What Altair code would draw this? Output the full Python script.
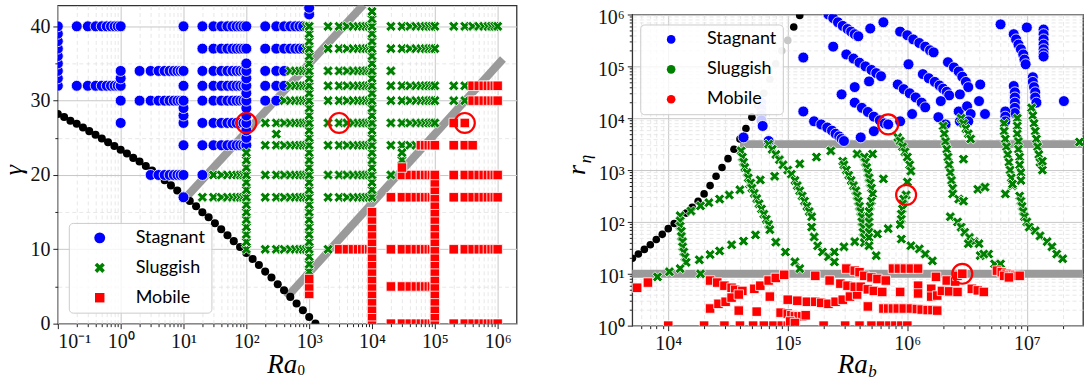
import altair as alt
import pandas as pd

REGIMES = ["Stagnant", "Sluggish", "Mobile"]
COLORS = ["#0000ff", "#008000", "#ff0000"]
X_PATH = "M-1,-0.5L-0.5,-1L0,-0.5L0.5,-1L1,-0.5L0.5,0L1,0.5L0.5,1L0,0.5L-0.5,1L-1,0.5L-0.5,0Z"
SHAPES = ["circle", X_PATH, "square"]
SIZES = [120, 90, 72]

# ---------------- Left panel: runs in the (Ra0, gamma) plane ----------------
MANTISSAS = [2, 3, 4, 5, 6, 7, 8, 9, 10]
# (gamma, decade exponent, regime, first mantissa, last mantissa)
LEFT_ROWS = [
    (40, -1, "Stagnant", 2, 10), (32, -1, "Stagnant", 2, 10),
    (34, 0, "Stagnant", 2, 10), (30, 0, "Stagnant", 2, 10), (20, 0, "Stagnant", 3, 10),
    (40, 1, "Stagnant", 2, 10), (37, 1, "Stagnant", 2, 10), (34, 1, "Stagnant", 2, 10),
    (32, 1, "Stagnant", 2, 10), (30, 1, "Stagnant", 2, 10), (27, 1, "Stagnant", 2, 10),
    (24, 1, "Stagnant", 2, 10), (20, 1, "Stagnant", 2, 2), (20, 1, "Sluggish", 3, 10),
    (17, 1, "Sluggish", 2, 10),
    (40, 2, "Stagnant", 2, 8), (40, 2, "Sluggish", 9, 10),
    (37, 2, "Stagnant", 2, 8), (37, 2, "Sluggish", 9, 10),
    (34, 2, "Stagnant", 2, 4), (34, 2, "Sluggish", 5, 10),
    (32, 2, "Stagnant", 2, 4), (32, 2, "Sluggish", 5, 10),
    (30, 2, "Stagnant", 2, 3), (30, 2, "Sluggish", 4, 10),
    (27, 2, "Sluggish", 2, 10), (24, 2, "Sluggish", 2, 10), (20, 2, "Sluggish", 2, 10),
    (17, 2, "Sluggish", 2, 10), (10, 2, "Sluggish", 2, 10),
    (40, 3, "Sluggish", 2, 10), (37, 3, "Sluggish", 2, 10), (34, 3, "Sluggish", 2, 10),
    (32, 3, "Sluggish", 2, 10), (30, 3, "Sluggish", 2, 10), (27, 3, "Sluggish", 2, 10),
    (24, 3, "Sluggish", 2, 10), (20, 3, "Sluggish", 2, 10), (17, 3, "Sluggish", 2, 10),
    (10, 3, "Sluggish", 2, 2), (10, 3, "Mobile", 3, 10),
    (40, 4, "Sluggish", 2, 10), (37, 4, "Sluggish", 2, 10), (34, 4, "Sluggish", 2, 2),
    (32, 4, "Sluggish", 2, 10), (30, 4, "Sluggish", 2, 10), (27, 4, "Sluggish", 2, 10),
    (24, 4, "Sluggish", 2, 5), (24, 4, "Mobile", 6, 10),
    (20, 4, "Sluggish", 2, 2), (20, 4, "Mobile", 3, 10),
    (17, 4, "Mobile", 2, 10), (10, 4, "Mobile", 2, 10), (5, 4, "Mobile", 2, 10),
    (0, 4, "Mobile", 2, 10),
    (40, 5, "Sluggish", 2, 10),
    (32, 5, "Sluggish", 2, 3), (32, 5, "Mobile", 4, 10),
    (30, 5, "Sluggish", 2, 3), (30, 5, "Mobile", 4, 10),
    (27, 5, "Mobile", 2, 3), (24, 5, "Mobile", 2, 4),
    (20, 5, "Mobile", 2, 10), (17, 5, "Mobile", 2, 10), (10, 5, "Mobile", 2, 10),
    (0, 5, "Mobile", 2, 10),
]
# columns of runs at one Ra0: (Ra0, regime, gammas)
LEFT_COLS = [
    (0.1, "Stagnant", [32, 33, 34, 35, 36, 37, 38, 39, 40]),
    (1.0, "Stagnant", [27, 30, 32, 33, 34]),
    (10.0, "Stagnant", [17, 24, 27, 28, 29, 30, 32, 34, 40]),
    (100.0, "Stagnant", [24, 25, 26, 27, 28, 29, 30, 31, 32, 33, 34, 35]),
    (100.0, "Sluggish", [10, 11, 12, 13, 14, 15, 16, 17, 18, 19, 20, 21, 22, 23]),
    (300.0, "Sluggish", [25.5]),
    (1e3, "Stagnant", [41.6, 42.5]),
    (1e3, "Sluggish", [7, 8, 9, 10, 11, 12, 13, 14, 15, 16, 17, 18, 19, 20, 21, 22, 23,
                       24, 25, 26, 27, 28, 29, 30, 31, 32, 33, 34, 35, 36, 37, 38, 39, 40]),
    (1e3, "Mobile", [4, 5, 6]),
    (1e4, "Sluggish", [18, 19, 20, 21, 22, 23, 24, 25, 26, 27, 28, 29, 30, 31, 32, 33, 34,
                       35, 36, 37, 38, 39, 40, 41, 42]),
    (1e4, "Mobile", [0, 1, 2, 3, 4, 5, 6, 7, 8, 9, 10, 11, 12, 13, 14, 15]),
    (3e4, "Sluggish", [22, 23]),
    (3e4, "Mobile", [21]),
    (1e5, "Mobile", [0, 1, 2, 3, 4, 5, 6, 7, 8, 9, 10, 11, 12, 13, 14, 15, 16, 17, 18, 19, 20]),
]
# critical curve (black dots)
CRIT_LOG_RA0 = [-1.0, -0.9, -0.8, -0.7, -0.6, -0.5, -0.4, -0.3, -0.2, -0.1, 0.0, 0.1, 0.2,
                0.3, 0.4, 0.5, 0.6, 0.7, 0.8, 0.9, 1.0, 1.1, 1.2, 1.3, 1.4, 1.5, 1.6, 1.7,
                1.8, 1.9, 2.0, 2.1, 2.2, 2.3, 2.4, 2.5, 2.6, 2.7, 2.8, 2.9, 3.0, 3.1]
CRIT_GAMMA = [28.2, 27.8, 27.3, 26.9, 26.4, 25.9, 25.4, 24.9, 24.4, 23.9, 23.4, 22.9, 22.3,
              21.8, 21.2, 20.6, 20.0, 19.3, 18.6, 17.9, 17.2, 16.5, 15.8, 15.0, 14.3, 13.5,
              12.7, 11.9, 11.1, 10.3, 9.5, 8.7, 7.9, 7.0, 6.2, 5.3, 4.5, 3.6, 2.7, 1.8, 0.9, 0.0]
# regime boundaries (thick grey lines)
LEFT_LINE_ID = [1, 1, 2, 2]
LEFT_LINE_RA0 = [11.0, 6600.0, 480.0, 1.1e6]
LEFT_LINE_GAMMA = [17.0, 42.5, 3.9, 35.2]
# highlighted runs
LEFT_MARK_RA0 = [100.0, 3000.0, 3e5]
LEFT_MARK_GAMMA = [27, 27, 27]

# ---------------- Right panel: (log10 Ra_b, log10 r_eta) ----------------
RIGHT_STAGNANT = [
    (4.63, 3.63), (4.79, 3.85), (4.84, 3.56),
    (5.13, 4.13), (5.22, 3.94), (5.28, 3.88), (5.33, 3.82), (5.37, 3.76), (5.40, 3.70),
    (5.43, 3.65), (5.45, 3.60), (5.47, 3.56),
    (5.61, 3.63), (5.72, 3.75),
    (5.56, 4.30), (5.62, 4.20), (5.67, 4.12), (5.72, 4.03), (5.77, 3.96), (5.81, 3.90), (5.84, 3.88),
    (5.94, 3.94), (6.04, 4.08),
    (5.13, 5.17),
    (5.38, 5.38), (5.49, 5.23), (5.55, 5.15), (5.60, 5.07), (5.65, 5.00), (5.70, 4.93),
    (5.74, 4.87), (5.78, 4.81),
    (5.34, 6.00), (5.38, 5.93), (5.42, 5.85), (5.46, 5.78), (5.50, 5.72), (5.53, 5.67),
    (5.56, 5.62), (5.59, 5.58),
    (5.69, 5.73), (5.80, 5.85),
    (5.45, 4.46), (5.56, 4.60), (5.68, 4.71),
    (5.94, 5.67), (6.00, 5.60), (6.05, 5.52), (6.10, 5.45), (6.15, 5.38), (6.19, 5.31), (6.22, 5.27),
    (5.92, 4.65), (5.97, 4.56), (6.02, 4.48), (6.07, 4.40), (6.12, 4.30), (6.15, 4.21),
    (6.01, 5.04),
    (6.13, 4.85), (6.18, 4.77), (6.23, 4.70), (6.27, 4.63), (6.30, 4.57), (6.33, 4.51), (6.35, 4.44),
    (6.34, 5.08), (6.39, 4.98), (6.43, 4.90), (6.46, 4.80), (6.49, 4.70), (6.51, 4.60),
    (6.28, 4.33), (6.44, 4.46), (6.61, 4.65),
    (6.26, 4.02), (6.32, 3.88), (6.43, 4.13), (6.44, 3.94), (6.50, 4.23), (6.53, 4.08),
    (6.51, 3.94), (6.60, 4.33), (6.65, 4.08),
    (6.78, 5.81), (6.89, 5.62), (6.91, 5.52), (6.93, 5.42), (6.95, 5.33), (6.97, 5.23),
    (6.98, 5.13), (6.99, 5.04),
    (7.00, 5.75), (7.14, 5.71), (7.14, 5.62), (7.14, 5.52), (7.14, 5.42), (7.14, 5.33),
    (7.14, 5.25), (7.14, 5.19),
    (7.05, 4.79), (7.05, 4.70), (7.06, 4.60), (7.07, 4.50), (7.07, 4.40), (7.08, 4.30),
    (6.89, 4.62), (6.90, 4.50), (6.90, 4.40), (6.90, 4.30), (6.90, 4.20), (6.90, 4.10),
    (6.82, 4.13), (6.82, 4.03), (6.82, 3.94),
    (7.31, 4.33),
]
RIGHT_STAGNANT_FADED = [(4.78, 4.30), (4.78, 4.18), (4.78, 4.06), (4.78, 3.96)]
RIGHT_SLUGGISH = [
    (4.10, 2.12), (4.19, 2.21), (4.27, 2.31), (4.34, 2.37), (4.43, 2.44), (4.51, 2.52),
    (4.60, 2.62), (4.68, 2.73), (4.77, 2.81), (4.89, 2.88), (5.10, 3.12), (5.24, 3.25), (5.36, 3.37),
    (4.10, 2.02), (4.10, 1.92), (4.11, 1.82), (4.11, 1.72), (4.12, 1.62), (4.12, 1.52),
    (4.13, 1.42), (4.14, 1.32), (4.15, 1.22),
    (3.91, 0.94), (4.01, 1.04), (4.10, 1.10), (4.26, 1.27), (4.35, 1.37), (4.43, 1.44),
    (4.53, 1.56), (4.63, 1.63), (4.73, 1.75), (4.27, 1.00),
    (4.61, 3.37), (4.62, 3.25), (4.63, 3.15), (4.64, 3.05), (4.66, 2.95), (4.67, 2.85),
    (4.69, 2.75), (4.70, 2.65), (4.72, 2.55), (4.74, 2.45), (4.76, 2.35), (4.78, 2.25),
    (4.80, 2.15), (4.82, 2.05), (4.84, 1.95), (4.85, 1.85), (4.90, 1.61), (4.98, 1.42),
    (5.06, 1.23), (5.10, 1.10),
    (4.84, 3.50), (4.87, 3.40), (4.90, 3.30), (4.93, 3.20), (4.96, 3.10), (5.00, 3.00),
    (5.03, 2.92), (5.06, 2.80), (5.08, 2.70), (5.10, 2.60), (5.12, 2.50), (5.14, 2.40),
    (5.16, 2.30), (5.18, 2.20), (5.20, 2.10), (5.20, 1.90), (5.22, 1.71), (5.25, 1.54),
    (5.29, 1.42), (5.34, 1.33), (5.39, 1.23),
    (5.46, 3.17), (5.47, 3.10), (5.49, 3.00), (5.51, 2.90), (5.53, 2.80), (5.55, 2.70),
    (5.57, 2.60), (5.58, 2.50), (5.59, 2.40), (5.60, 2.30), (5.61, 2.20), (5.62, 2.10),
    (5.62, 2.00), (5.63, 1.90), (5.63, 1.80), (5.64, 1.70), (5.64, 1.60),
    (5.58, 3.31), (5.71, 3.31), (5.64, 3.25), (5.65, 3.15), (5.66, 3.05), (5.67, 2.95),
    (5.68, 2.85), (5.69, 2.75), (5.70, 2.65), (5.71, 2.54), (5.70, 2.40), (5.69, 2.30),
    (5.68, 2.20), (5.68, 2.10), (5.68, 2.00), (5.68, 1.90), (5.68, 1.80), (5.68, 1.70),
    (5.68, 1.54), (5.74, 1.35),
    (5.80, 2.83), (5.39, 1.42), (5.47, 1.52), (5.56, 1.62), (5.75, 1.77), (5.84, 1.87),
    (5.92, 3.63), (5.94, 3.56), (5.96, 3.45), (5.98, 3.35), (6.00, 3.25), (6.02, 3.10),
    (6.03, 2.98), (6.00, 2.77), (5.99, 2.52), (5.97, 2.44), (5.96, 2.35), (5.96, 2.25),
    (5.95, 2.15), (5.95, 2.05), (5.94, 1.95),
    (5.95, 1.67), (6.03, 1.54), (6.10, 1.48), (6.15, 1.38), (6.21, 1.25),
    (6.30, 3.85), (6.31, 3.70), (6.32, 3.55), (6.33, 3.40), (6.34, 3.25), (6.35, 3.10),
    (6.36, 2.95), (6.37, 2.80), (6.38, 2.65), (6.38, 2.54), (6.43, 2.44), (6.36, 2.10),
    (6.42, 2.00), (6.45, 1.90), (6.48, 1.80), (6.52, 1.70), (6.56, 1.62), (6.60, 1.58),
    (6.51, 1.58), (6.61, 1.35), (6.68, 1.38), (6.73, 1.19), (6.64, 1.38), (6.78, 1.19),
    (6.47, 3.21), (6.45, 4.00), (6.47, 3.90), (6.49, 3.80), (6.51, 3.70), (6.53, 3.60),
    (6.59, 2.63), (6.65, 2.67), (6.47, 2.40),
    (6.81, 3.90), (6.81, 3.75), (6.82, 3.60), (6.83, 3.45), (6.84, 3.30), (6.85, 3.15),
    (6.86, 3.00), (6.87, 2.85), (6.88, 2.70),
    (6.92, 4.00), (6.92, 3.85), (6.92, 3.70), (6.93, 3.55), (6.93, 3.40), (6.94, 3.25),
    (6.94, 3.10), (6.95, 2.95), (6.95, 2.80),
    (6.82, 2.54), (6.88, 2.73), (6.94, 2.50), (6.95, 2.40), (6.96, 2.30), (6.97, 2.20),
    (6.98, 2.10), (7.00, 2.00), (7.02, 1.90),
    (7.07, 1.83), (7.11, 1.73), (7.17, 1.62), (7.21, 1.52), (7.25, 1.38), (7.30, 1.29),
    (7.04, 4.20), (7.05, 4.05), (7.06, 3.90), (7.07, 3.75), (7.08, 3.60), (7.09, 3.45),
    (7.10, 3.30), (7.11, 3.15), (7.13, 3.00), (7.13, 3.17), (7.44, 3.54),
]
RIGHT_MOBILE = [
    (3.74, 0.73), (3.83, 0.83),
    (4.00, 0.0), (4.30, 0.0), (4.47, 0.0), (4.60, 0.0), (4.71, 0.0), (4.80, 0.0), (4.88, 0.0),
    (4.95, 0.0), (5.00, 0.0),
    (5.30, 0.0), (5.48, 0.0), (5.60, 0.0), (5.70, 0.0), (5.78, 0.0), (5.85, 0.0), (5.90, 0.0),
    (5.95, 0.0), (6.00, 0.0),
    (4.35, 0.87), (4.41, 0.83), (4.47, 0.77), (4.53, 0.73), (4.56, 0.69), (4.62, 0.67),
    (4.35, 0.33), (4.42, 0.42), (4.48, 0.46), (4.53, 0.54), (4.59, 0.60), (4.72, 0.71),
    (4.77, 0.77), (4.84, 0.87), (4.90, 0.92), (4.97, 0.98),
    (4.59, 0.29), (4.74, 0.27), (4.85, 0.56), (4.94, 0.25),
    (5.00, 0.50), (5.08, 0.48), (5.16, 0.46), (5.23, 0.46), (5.28, 0.44), (5.34, 0.42),
    (5.40, 0.46), (5.46, 0.50), (5.52, 0.56), (5.58, 0.60),
    (5.00, 0.23), (5.03, 0.20), (5.06, 0.18), (5.09, 0.18), (5.12, 0.18), (5.15, 0.20),
    (5.02, 0.08), (5.06, 0.05),
    (5.23, 0.96), (5.35, 0.87), (5.44, 0.81), (5.50, 0.77), (5.56, 0.75), (5.61, 0.75),
    (5.67, 0.70), (5.72, 0.67), (5.79, 0.65),
    (5.49, 1.10), (5.56, 1.06), (5.60, 1.03), (5.64, 0.96), (5.70, 0.93), (5.75, 0.90), (5.82, 0.87),
    (5.88, 1.10), (5.93, 1.10), (5.98, 1.10), (6.03, 1.10), (6.09, 1.10),
    (5.67, 0.37), (5.80, 0.33), (5.84, 0.33), (5.88, 0.33), (5.92, 0.33), (5.97, 0.33),
    (6.03, 0.33), (6.08, 0.32), (6.12, 0.31), (6.17, 0.30), (6.21, 0.30), (6.25, 0.29),
    (5.94, 0.65), (6.09, 0.77), (6.09, 0.62), (6.20, 0.71), (6.20, 0.56), (6.25, 0.58),
    (6.24, 0.94), (6.29, 0.67), (6.35, 0.66), (6.42, 0.65), (6.33, 0.87), (6.40, 0.85),
    (6.42, 0.96), (6.46, 1.00), (6.54, 0.71), (6.59, 0.68), (6.64, 0.65),
    (6.75, 1.06), (6.79, 1.03), (6.83, 1.00), (6.86, 0.98), (6.90, 0.96), (6.94, 0.96),
    (6.81, 0.96), (6.85, 0.93),
]
RB_CRIT_LOG = [3.70, 3.75, 3.80, 3.85, 3.90, 3.95, 4.00, 4.05, 4.10, 4.15, 4.20, 4.25, 4.30,
               4.35, 4.40, 4.45, 4.50, 4.55, 4.60, 4.65, 4.70, 4.75, 4.80, 4.85, 4.90, 4.95,
               5.00, 5.05, 5.10]
RETA_CRIT_LOG = [1.30, 1.38, 1.47, 1.56, 1.66, 1.76, 1.87, 1.97, 2.07, 2.17, 2.28, 2.40, 2.54,
                 2.70, 2.88, 3.05, 3.22, 3.40, 3.60, 3.80, 4.02, 4.24, 4.48, 4.75, 5.05, 5.30,
                 5.50, 5.76, 5.98]
CRIT_SHADE = ["k", "k", "k", "k", "k", "k", "k", "k", "k", "k", "k", "k", "k",
              "k", "k", "k", "k", "k", "k", "k", "k", "l", "l", "l", "l", "l",
              "l", "k", "k"]
RIGHT_LINE_ID = [1, 1, 2, 2]
RIGHT_LINE_RAB = [4.3e4, 2.95e7, 5.0e3, 2.95e7]
RIGHT_LINE_RETA = [3162.0, 3162.0, 10.0, 10.0]
RIGHT_MARK_LOG = [(5.84, 3.88), (5.99, 2.52), (6.46, 1.00)]

# ---------------- build tables ----------------
left_recs = []
for g, k, reg, m0, m1 in LEFT_ROWS:
    for m in MANTISSAS:
        if m0 <= m <= m1:
            left_recs.append({"x": m * 10.0 ** k, "y": g, "regime": reg})
for ra, reg, gs in LEFT_COLS:
    for g in gs:
        left_recs.append({"x": ra, "y": g, "regime": reg})
left_df = pd.DataFrame(left_recs)
left_crit = pd.DataFrame({"x": [10 ** v for v in CRIT_LOG_RA0], "y": CRIT_GAMMA})
left_lines = pd.DataFrame({"id": LEFT_LINE_ID, "x": LEFT_LINE_RA0, "y": LEFT_LINE_GAMMA})
left_marks = pd.DataFrame({"x": LEFT_MARK_RA0, "y": LEFT_MARK_GAMMA})

right_recs = []
for reg, pts in (("Stagnant", RIGHT_STAGNANT), ("Sluggish", RIGHT_SLUGGISH), ("Mobile", RIGHT_MOBILE)):
    for lx, ly in pts:
        right_recs.append({"x": 10 ** lx, "y": 10 ** ly, "regime": reg})
right_df = pd.DataFrame(right_recs)
right_faded = pd.DataFrame({"x": [10 ** a for a, b in RIGHT_STAGNANT_FADED],
                            "y": [10 ** b for a, b in RIGHT_STAGNANT_FADED]})
right_crit = pd.DataFrame({"x": [10 ** v for v in RB_CRIT_LOG], "y": [10 ** v for v in RETA_CRIT_LOG],
                           "shade": CRIT_SHADE})
right_lines = pd.DataFrame({"id": RIGHT_LINE_ID, "x": RIGHT_LINE_RAB, "y": RIGHT_LINE_RETA})
right_marks = pd.DataFrame({"x": [10 ** a for a, b in RIGHT_MARK_LOG], "y": [10 ** b for a, b in RIGHT_MARK_LOG]})

ONE = pd.DataFrame({"k": [0]})
SUP = "'10' + ['\u207b\u00b9','\u2070','\u00b9','\u00b2','\u00b3','\u2074','\u2075','\u2076','\u2077'][round(log(datum.value)/log(10)) + 1]"
SERIF = "Liberation Serif"


def axes_layers(df, xs, ys, xmaj, xmin, ymaj, ymin, xexpr, yexpr, ylab_off=0):
    common = dict(domain=False, title=None, tickColor="#222", tickWidth=1, grid=True)
    xa_min = alt.Axis(values=xmin, orient="bottom", gridColor="#e2e2e2", gridDash=[4, 3],
                      gridWidth=0.8, tickSize=3, labels=False, **common)
    ya_min = alt.Axis(values=ymin, orient="left", gridColor="#e2e2e2", gridDash=[4, 3],
                      gridWidth=0.8, tickSize=3, labels=False, **common)
    xkw = dict(values=xmaj, orient="bottom", gridColor="#c8c8c8", gridWidth=1, tickSize=5,
               labelPadding=3, labelFont=SERIF, labelFontSize=20, labelColor="#111", **common)
    ykw = dict(values=ymaj, orient="left", gridColor="#c8c8c8", gridWidth=1, tickSize=5,
               labelPadding=3, labelFont=SERIF, labelFontSize=20, labelColor="#111", **common)
    if xexpr:
        xkw["labelExpr"] = xexpr
    if yexpr:
        ykw["labelExpr"] = yexpr
    if ylab_off:
        ykw["labelOffset"] = ylab_off
    base = alt.Chart(df).mark_point(opacity=0)
    a1 = base.encode(x=alt.X("x:Q", scale=xs, axis=xa_min), y=alt.Y("y:Q", scale=ys, axis=ya_min))
    a2 = base.encode(x=alt.X("x:Q", scale=xs, axis=alt.Axis(**xkw)),
                     y=alt.Y("y:Q", scale=ys, axis=alt.Axis(**ykw)))
    return [a1, a2]


def legend(x, y):
    return alt.Legend(title=None, orient="none", legendX=x, legendY=y,
                      fillColor="rgba(255,255,255,0.8)", strokeColor="#cccccc", cornerRadius=4,
                      padding=6, rowPadding=12, symbolOffset=16, labelOffset=27,
                      labelFont="Lato", labelFontSize=18, labelColor="black", symbolSize=75,
                      symbolStrokeWidth=0, labelLimit=300)


def scatter(df, xs, ys, lx, ly):
    lg = legend(lx, ly)
    return alt.Chart(df).mark_point(filled=True, opacity=1, stroke="white", strokeWidth=0.8,
                                    clip=True).encode(
        x=alt.X("x:Q", scale=xs, axis=None),
        y=alt.Y("y:Q", scale=ys, axis=None),
        color=alt.Color("regime:N", scale=alt.Scale(domain=REGIMES, range=COLORS), legend=lg),
        shape=alt.Shape("regime:N", scale=alt.Scale(domain=REGIMES, range=SHAPES), legend=lg),
        size=alt.Size("regime:N", scale=alt.Scale(domain=REGIMES, range=SIZES), legend=None),
    )


def thick_lines(df, xs, ys):
    return alt.Chart(df).mark_line(color="#9a9a9a", strokeWidth=8, strokeCap="square",
                                   clip=True).encode(
        x=alt.X("x:Q", scale=xs, axis=None), y=alt.Y("y:Q", scale=ys, axis=None), detail="id:N")


def rings(df, xs, ys):
    return alt.Chart(df).mark_point(shape="circle", filled=False, color="red", strokeWidth=2.2,
                                    size=400, opacity=1).encode(
        x=alt.X("x:Q", scale=xs, axis=None), y=alt.Y("y:Q", scale=ys, axis=None))


def txt(s, x, y, size, angle=0, italic=True, baseline="alphabetic"):
    kw = dict(text=s, font=SERIF, fontSize=size, align="center", baseline=baseline, color="black")
    if italic:
        kw["fontStyle"] = "italic"
    if angle:
        kw["angle"] = angle
    return alt.Chart(ONE).mark_text(**kw).encode(x=alt.value(x), y=alt.value(y))


# ---------------- left chart ----------------
LW, LH = 460, 319
lxs = alt.Scale(type="log", domain=[0.1, 2e6], nice=False)
lys = alt.Scale(domain=[0, 42.8], nice=False, zero=False)
lx_major = [0.1, 1, 10, 100, 1e3, 1e4, 1e5, 1e6]
lx_minor = [m * 10.0 ** k for k in range(-1, 6) for m in [2, 3, 4, 5, 6, 7, 8, 9]]
ly_major = [0, 10, 20, 30, 40]
ly_minor = [5, 15, 25, 35]

left = alt.layer(
    *axes_layers(left_df, lxs, lys, lx_major, lx_minor, ly_major, ly_minor, SUP, None),
    thick_lines(left_lines, lxs, lys),
    alt.Chart(left_crit).mark_circle(color="black", size=65, opacity=1, clip=True).encode(
        x=alt.X("x:Q", scale=lxs, axis=None), y=alt.Y("y:Q", scale=lys, axis=None)),
    scatter(left_df, lxs, lys, 11, 218),
    rings(left_marks, lxs, lys),
    txt("Ra", 225, 369, 27),
    txt("0", 244, 371, 15, italic=False),
    txt("\u03b3", -44, 165, 26, angle=270, baseline="middle"),
).resolve_axis(x="independent", y="independent").properties(width=LW, height=LH)

# ---------------- right chart ----------------
RW, RH = 452, 312
rxs = alt.Scale(type="log", domain=[5e3, 2.95e7], nice=False)
rys = alt.Scale(type="log", domain=[1, 1e6], nice=False)
rx_major = [1e4, 1e5, 1e6, 1e7]
rx_minor = [6e3, 7e3, 8e3, 9e3] + [m * 10.0 ** k for k in range(4, 7) for m in [2, 3, 4, 5, 6, 7, 8, 9]] + [2e7]
ry_major = [1, 10, 100, 1e3, 1e4, 1e5, 1e6]
ry_minor = [m * 10.0 ** k for k in range(0, 6) for m in [2, 3, 4, 5, 6, 7, 8, 9]]

right = alt.layer(
    *axes_layers(right_df, rxs, rys, rx_major, rx_minor, ry_major, ry_minor, SUP, SUP, ylab_off=3),
    thick_lines(right_lines, rxs, rys),
    alt.Chart(right_crit).mark_circle(size=58, opacity=1, clip=True).encode(
        x=alt.X("x:Q", scale=rxs, axis=None), y=alt.Y("y:Q", scale=rys, axis=None),
        color=alt.Color("shade:N", scale=alt.Scale(domain=["k", "l"], range=["#000000", "#c8c8c8"]),
                        legend=None)),
    alt.Chart(right_faded).mark_circle(size=120, color="#c4c8ff", opacity=1, stroke="white",
                                       strokeWidth=0.8).encode(
        x=alt.X("x:Q", scale=rxs, axis=None), y=alt.Y("y:Q", scale=rys, axis=None)),
    scatter(right_df, rxs, rys, 8, 10),
    rings(right_marks, rxs, rys),
    txt("Ra", 221, 360, 27),
    txt("b", 241, 364, 17),
    txt("r", -55, 156, 26, angle=270, baseline="middle"),
    txt("\u03b7", -46, 145, 17, angle=270, baseline="middle"),
).resolve_axis(x="independent", y="independent").resolve_scale(color="independent").properties(
    width=RW, height=RH)

# thin empty strip that lowers the right panel a few pixels below the left one
spacer = alt.Chart(ONE).mark_point(opacity=0, size=0).encode(
    x=alt.value(0), y=alt.value(0)
).properties(width=RW, height=1, view=alt.ViewBackground(stroke="transparent", strokeWidth=0))

right_col = alt.vconcat(spacer, right, spacing=0)

chart = alt.hconcat(left, right_col, spacing=46).resolve_scale(
    x="independent", y="independent", color="independent", shape="independent", size="independent"
).configure_view(stroke="#333333", strokeWidth=1.3).properties(
    padding={"left": 0, "top": 3, "right": 2, "bottom": 2}, background="white")

chart.save("out.html", embed_options={"renderer": "svg", "actions": False})
